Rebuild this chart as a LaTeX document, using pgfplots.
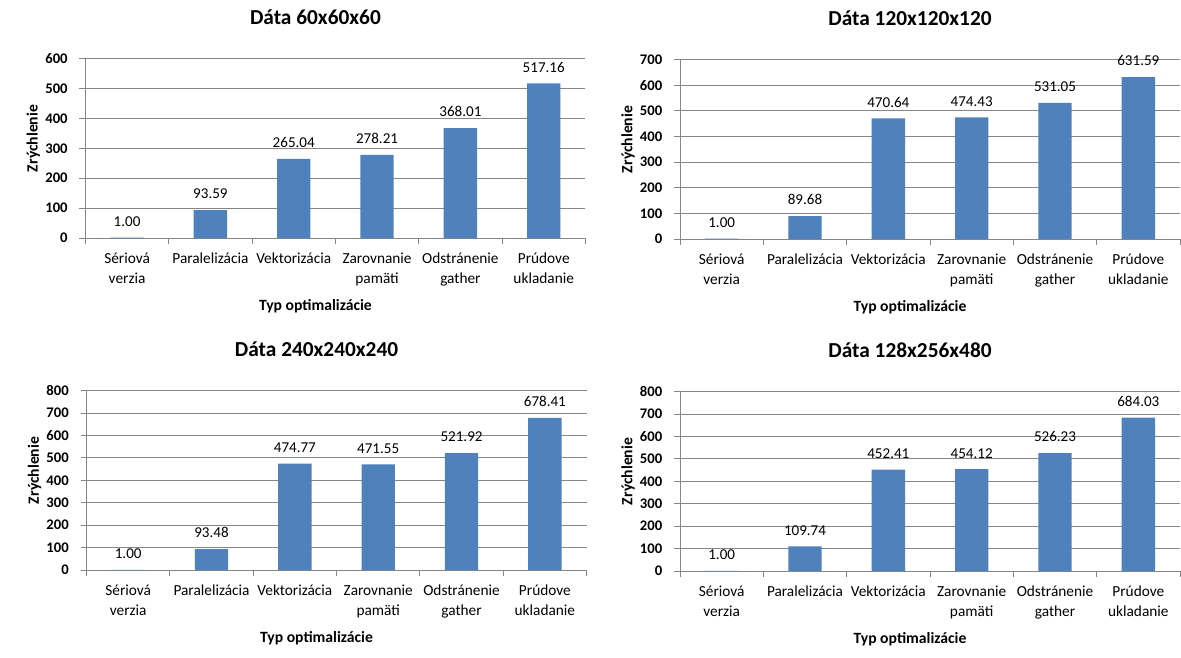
\documentclass[border=0pt]{standalone}
\usepackage{fontspec}
\setmainfont{Carlito}
\usepackage{pgfplots}
\pgfplotsset{compat=1.18}

\definecolor{barblue}{HTML}{4F81BD}
\definecolor{linegray}{HTML}{868686}

\pgfplotsset{
  speedup chart/.style={
    scale only axis, width=375pt, height=134.5pt, anchor=south west,
    ybar, bar width=0.4,
    xmin=-0.5, xmax=5.5, ymin=0,
    /pgf/number format/assume math mode=true,
    axis x line*=bottom, axis y line*=left,
    axis line style={draw=linegray, line width=0.7pt, -},
    ymajorgrids, major grid style={draw=linegray, line width=0.7pt},
    tick align=outside, major tick length=4.5pt,
    tick style={draw=linegray, line width=0.7pt},
    % tick marks between the categories, names centred under the bars
    xtick={-0.5,0.5,...,5.5}, xticklabels={},
    extra x ticks={0,1,2,3,4,5},
    extra x tick labels={{\strut Sériová\\verzia},{\strut Paralelizácia},{\strut Vektorizácia},{\strut Zarovnanie\\pamäti},{\strut Odstránenie\\gather},{\strut Prúdove\\ukladanie}},
    extra x tick style={tick style={draw=none}, xmajorgrids=false},
    xticklabel style={font=\fontsize{11.5}{14.75}\selectfont, align=center, anchor=north, inner sep=0pt, yshift=-4.2pt},
    ytick distance=100,
    yticklabel style={font=\bfseries\fontsize{11}{13}\selectfont, anchor=east, inner sep=0pt, xshift=-8.6pt},
    nodes near coords={\pgfmathprintnumber[fixed,fixed zerofill,precision=2]{\pgfplotspointmeta}},
    every node near coord/.append style={font=\fontsize{11.3}{13}\selectfont, text=black, anchor=base, inner sep=0pt, yshift=8.4pt},
    title style={at={(axis description cs:0.46,1.184)}, anchor=center, font=\bfseries\fontsize{16}{19}\selectfont, inner sep=0pt},
    xlabel={Typ optimalizácie},
    xlabel style={at={(axis description cs:0.46,-0.382)}, anchor=center, font=\bfseries\fontsize{11.75}{14}\selectfont, inner sep=0pt},
    ylabel={Zrýchlenie},
    ylabel style={at={(axis description cs:-0.104,0.555)}, anchor=center, font=\bfseries\fontsize{11.75}{14}\selectfont, inner sep=0pt},
    clip=false,
  },
  speedup bars/.style={fill=barblue, draw=none},
}

\begin{document}
\begin{tikzpicture}
\useasboundingbox (0,0) rectangle (885.75pt,-492.75pt);
\fill[white] (0,0) rectangle (885.75pt,-492.75pt);

\begin{axis}[speedup chart, at={(64.05pt,-178.5pt)}, ymax=600, title={Dáta 60x60x60}]
\addplot[speedup bars] coordinates {(0,1.00) (1,93.59) (2,265.04) (3,278.21) (4,368.01) (5,517.16)};
\end{axis}

\begin{axis}[speedup chart, at={(510pt,-179.25pt)}, ymax=700, title={Dáta 120x120x120}]
\addplot[speedup bars] coordinates {(0,1.00) (1,89.68) (2,470.64) (3,474.43) (4,531.05) (5,631.59)};
\end{axis}

\begin{axis}[speedup chart, at={(64.9pt,-427.5pt)}, ymax=800, title={Dáta 240x240x240}]
\addplot[speedup bars] coordinates {(0,1.00) (1,93.48) (2,474.77) (3,471.55) (4,521.92) (5,678.41)};
\end{axis}

\begin{axis}[speedup chart, at={(510pt,-428.25pt)}, ymax=800, title={Dáta 128x256x480}]
\addplot[speedup bars] coordinates {(0,1.00) (1,109.74) (2,452.41) (3,454.12) (4,526.23) (5,684.03)};
\end{axis}
\end{tikzpicture}
\end{document}
